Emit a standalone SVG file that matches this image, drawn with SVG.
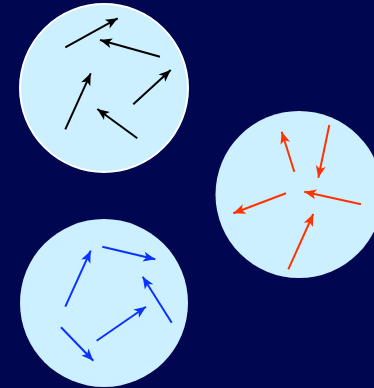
<svg xmlns="http://www.w3.org/2000/svg" width="374" height="388" viewBox="0 0 374 388">
<style>
.bg{fill:#00064f}
.disc{fill:#ccf0ff}
.a{stroke-width:2;fill:none;stroke-linecap:butt}
.k{stroke:#000}
.r{stroke:#ff3300}
.b{stroke:#0a33ff}
</style>
<defs>
<marker id="mk" markerUnits="userSpaceOnUse" markerWidth="13" markerHeight="10" refX="12" refY="5" orient="auto" overflow="visible"><path d="M0,0 L12,5 L0,10 L3,5 z" fill="#000"/></marker>
<marker id="mr" markerUnits="userSpaceOnUse" markerWidth="13" markerHeight="10" refX="12" refY="5" orient="auto" overflow="visible"><path d="M0,0 L12,5 L0,10 L3,5 z" fill="#ff3300"/></marker>
<marker id="mb" markerUnits="userSpaceOnUse" markerWidth="13" markerHeight="10" refX="12" refY="5" orient="auto" overflow="visible"><path d="M0,0 L12,5 L0,10 L3,5 z" fill="#0a33ff"/></marker>
</defs>
<rect class="bg" x="0" y="0" width="374" height="388"/>
<g id="circle-black">
<circle class="disc" cx="104" cy="88" r="84" stroke="#ffffff" stroke-width="2"/>
</g>
<g id="circle-red">
<circle class="disc" cx="299" cy="194.5" r="83.5"/>
</g>
<g id="circle-blue">
<circle class="disc" cx="104" cy="303" r="84"/>
</g>
<g id="arrows-black" class="a k" marker-end="url(#mk)">
<line x1="65.3" y1="47.3" x2="117.7" y2="18.3"/>
<line x1="160" y1="56.7" x2="100" y2="40"/>
<line x1="65.3" y1="129.3" x2="90.7" y2="73.3"/>
<line x1="133.3" y1="104.3" x2="170.7" y2="70"/>
<line x1="137.3" y1="138.3" x2="97.3" y2="109"/>
</g>
<g id="arrows-red" class="a r" marker-end="url(#mr)">
<line x1="294.3" y1="171.7" x2="281.7" y2="131.7"/>
<line x1="329.3" y1="125" x2="318.3" y2="177.7"/>
<line x1="361" y1="204.3" x2="304.3" y2="191.7"/>
<line x1="286" y1="193.3" x2="233.3" y2="213.3"/>
<line x1="288.3" y1="269.3" x2="313.3" y2="214"/>
</g>
<g id="arrows-blue" class="a b" marker-end="url(#mb)">
<line x1="65.3" y1="306.7" x2="90.7" y2="250.7"/>
<line x1="102.3" y1="246.7" x2="155.3" y2="259.3"/>
<line x1="171.7" y1="322.7" x2="142.7" y2="276.7"/>
<line x1="96.7" y1="340.7" x2="146" y2="306.7"/>
<line x1="61" y1="327.3" x2="93.3" y2="360.7"/>
</g>
</svg>
